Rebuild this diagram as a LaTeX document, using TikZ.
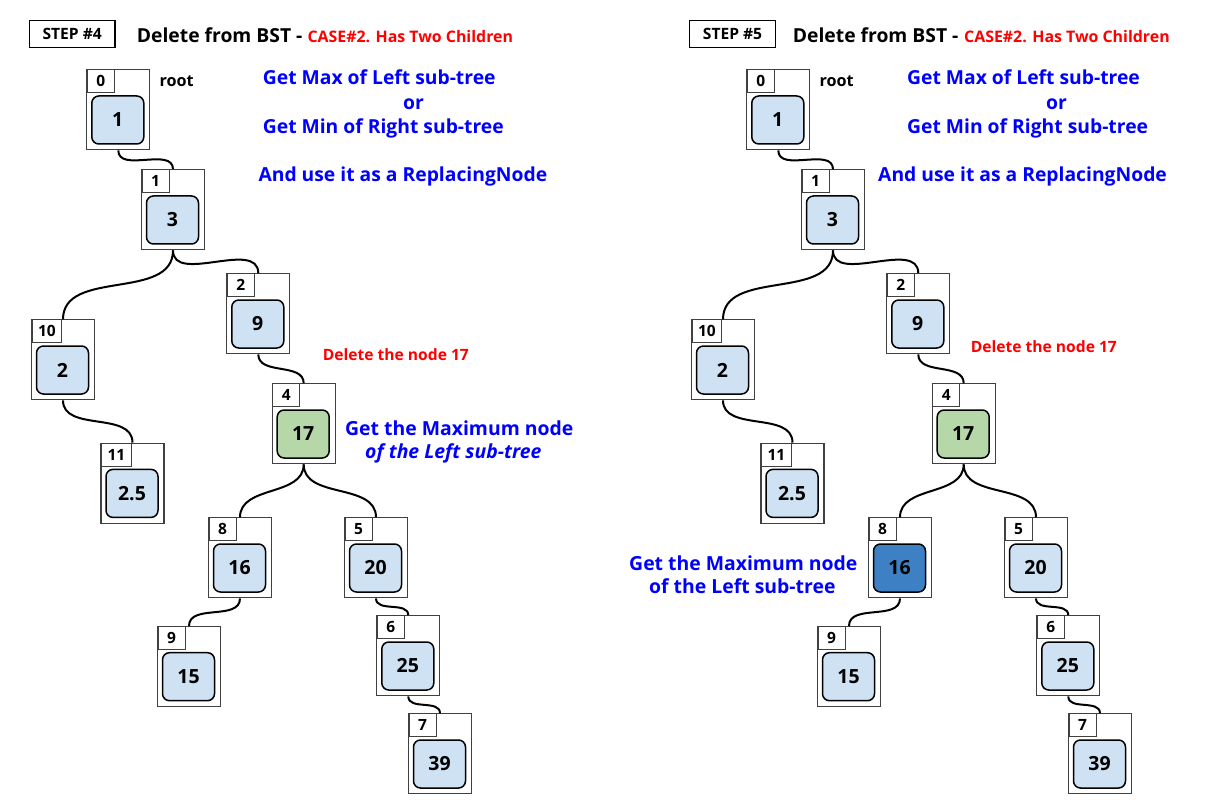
\documentclass[tikz,border=0pt]{standalone}
\usepackage{fontspec}
\setmainfont{Open Sans}
\definecolor{nodeblue}{RGB}{207,226,243}
\definecolor{nodegreen}{RGB}{182,215,168}
\definecolor{nodedark}{RGB}{61,129,196}
\definecolor{txtblue}{RGB}{0,0,255}
\definecolor{txtred}{RGB}{255,0,0}
\tikzset{
  outerbox/.style={draw=black!75, line width=1.1pt, minimum width=63pt, minimum height=80pt, inner sep=0pt, anchor=north},
  idxbox/.style={draw=black!75, line width=1.1pt, minimum width=27pt, minimum height=23pt, inner xsep=6pt, inner ysep=0pt, anchor=north west, font=\bfseries\fontsize{15.5}{17}\selectfont},
  valbox/.style={draw=black, line width=1.5pt, rounded corners=7pt, minimum width=52pt, minimum height=48pt, inner sep=0pt, font=\bfseries\fontsize{19.5}{21}\selectfont},
  link/.style={line width=2pt, black},
  txt/.style={inner sep=0pt, anchor=base west, font=\bfseries\fontsize{19.3}{23}\selectfont},
  smalltxt/.style={inner sep=0pt, anchor=base west, font=\bfseries\fontsize{16.2}{18}\selectfont},
  redtxt/.style={inner sep=0pt, anchor=base west, text=txtred, font=\bfseries\fontsize{15.6}{18}\selectfont},
  bluetxt/.style={txt, text=txtblue},
  bigblue/.style={inner sep=0pt, anchor=base west, text=txtblue, font=\bfseries\fontsize{19.4}{23}\selectfont},
  stepbox/.style={draw=black, line width=1.5pt, minimum width=85.7pt, minimum height=26.6pt, inner sep=0pt, font=\bfseries\fontsize{15.6}{17}\selectfont},
}
\newcommand\bstnode[6]{%
  \node[outerbox] (#1) at (#2,#3) {};
  \node[idxbox] (#1i) at (#2-31.5,#3) {#4};
  \node[valbox, fill=#6] (#1v) at (#2-0.5,#3+50.7) {#5};
}
\newcommand\bsttree[2]{%
  \bstnode{#1n0}{118.3}{69.3}{0}{1}{nodeblue}
  \bstnode{#1n1}{173}{169.3}{1}{3}{nodeblue}
  \bstnode{#1n10}{63}{319.3}{10}{2}{nodeblue}
  \bstnode{#1n2}{258.3}{273.3}{2}{9}{nodeblue}
  \bstnode{#1n11}{132.5}{442.7}{11}{2.5}{nodeblue}
  \bstnode{#1n4}{303.7}{383.3}{4}{17}{nodegreen}
  \bstnode{#1n8}{240}{517.3}{8}{16}{#2}
  \bstnode{#1n5}{376}{517.3}{5}{20}{nodeblue}
  \bstnode{#1n9}{189}{626}{9}{15}{nodeblue}
  \bstnode{#1n6}{408.3}{615.3}{6}{25}{nodeblue}
  \bstnode{#1n7}{440}{713.3}{7}{39}{nodeblue}
  \draw[link] (#1n0.south) to[out=-90,in=90] (#1n1.north);
  \draw[link] (#1n1.south) to[out=-90,in=90] (#1n10.north);
  \draw[link] (#1n1.south) to[out=-90,in=90] (#1n2.north);
  \draw[link] (#1n10.south) to[out=-90,in=90] (#1n11.north);
  \draw[link] (#1n2.south) to[out=-90,in=90] (#1n4.north);
  \draw[link] (#1n4.south) to[out=-90,in=90] (#1n8.north);
  \draw[link] (#1n4.south) to[out=-90,in=90] (#1n5.north);
  \draw[link] (#1n8.south) to[out=-90,in=90] (#1n9.north);
  \draw[link] (#1n5.south) to[out=-90,in=90] (#1n6.north);
  \draw[link] (#1n6.south) to[out=-90,in=90] (#1n7.north);
}
\begin{document}
\begin{tikzpicture}[x=1pt,y=-1pt]
  \fill[white] (0,0) rectangle (1208,805);
  \useasboundingbox (0,0) rectangle (1208,805);
  % left panel
  \bsttree{L}{nodeblue}
  \node[stepbox] (Lstep) at (72.2,34) {STEP \#4};
  \node[txt] (Ltitle) at (136.7,42.7) {Delete from BST -};
  \node[redtxt, font=\bfseries\fontsize{15.9}{18}\selectfont] (Lcase) at (307.3,42.7) {CASE\#2. Has Two Children};
  \node[smalltxt] (Lroot) at (159.3,86.7) {root};
  \node[bluetxt] (Lg1) at (262.7,85) {Get Max of Left sub-tree};
  \node[bluetxt] (Lor) at (403,109.3) {or};
  \node[bluetxt] (Lg2) at (262.7,133.3) {Get Min of Right sub-tree};
  \node[bluetxt] (Lg3) at (258.3,181.7) {And use it as a ReplacingNode};
  \node[redtxt] (Ldel) at (322.7,360.7) {Delete the node 17};
  \node[bigblue] (Lm1) at (345,435) {Get the Maximum node};
  \node[bigblue, font=\bfseries\itshape\fontsize{19.4}{23}\selectfont] (Lm2) at (365,458.3) {of the Left sub-tree};
  % right panel
  \begin{scope}[xshift=660pt]
    \bsttree{R}{nodedark}
  \end{scope}
  \node[stepbox] (Rstep) at (732.5,34) {STEP \#5};
  \node[txt] (Rtitle) at (792.7,42.7) {Delete from BST -};
  \node[redtxt, font=\bfseries\fontsize{15.9}{18}\selectfont] (Rcase) at (964,42.7) {CASE\#2. Has Two Children};
  \node[smalltxt] (Rroot) at (819.3,86.7) {root};
  \node[bluetxt] (Rg1) at (907,85) {Get Max of Left sub-tree};
  \node[bluetxt] (Ror) at (1046,109.3) {or};
  \node[bluetxt] (Rg2) at (907,133.3) {Get Min of Right sub-tree};
  \node[bluetxt] (Rg3) at (878,181.7) {And use it as a ReplacingNode};
  \node[redtxt] (Rdel) at (970.7,352.3) {Delete the node 17};
  \node[bigblue] (Rm1) at (629,570) {Get the Maximum node};
  \node[bigblue] (Rm2) at (649,593.3) {of the Left sub-tree};
\end{tikzpicture}
\end{document}
